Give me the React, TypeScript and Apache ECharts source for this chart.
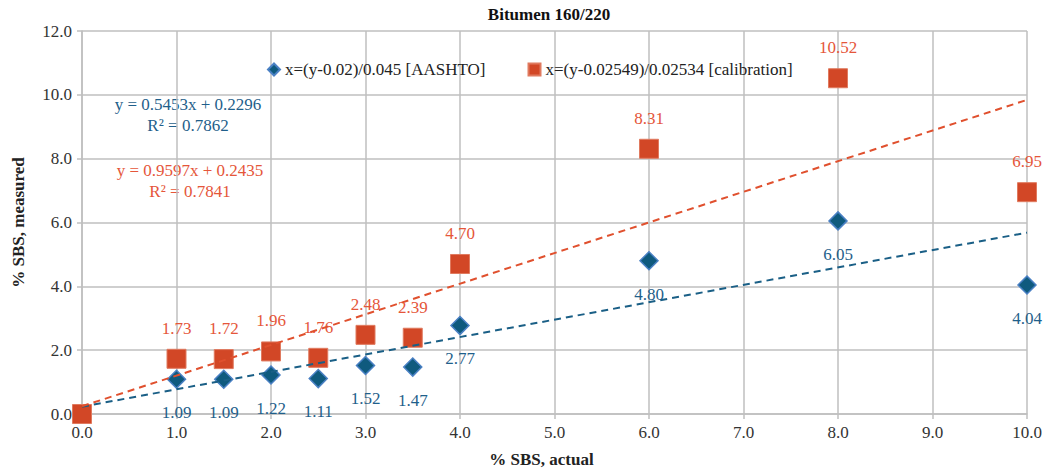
import React, { useEffect, useRef } from "react";
import * as echarts from "echarts";

// % SBS actually added to the binder
const sbsActual = [0, 1, 1.5, 2, 2.5, 3, 3.5, 4, 6, 8, 10];
// % SBS measured with the AASHTO equation
const measuredAashto = [0, 1.09, 1.09, 1.22, 1.11, 1.52, 1.47, 2.77, 4.8, 6.05, 4.04];
// % SBS measured with the calibration equation
const measuredCalibration = [0, 1.73, 1.72, 1.96, 1.76, 2.48, 2.39, 4.7, 8.31, 10.52, 6.95];

// Linear trend lines: [AASHTO, calibration]
const trendSlopes = [0.5453, 0.9597];
const trendIntercepts = [0.2296, 0.2435];
const trendR2 = [0.7862, 0.7841];

const seriesNames = ["x=(y-0.02)/0.045 [AASHTO]", "x=(y-0.02549)/0.02534 [calibration]"];
const yTicks = { min: 0, max: 12, step: 2 };
const xTicks = { min: 0, max: 10, step: 1 };

const FONT = "Liberation Serif";
const FS = 17;
const BLUE = "#0f5a7e";
const BLUE_TEXT = "#1f5f8b";
const RED = "#d24726";
const RED_TEXT = "#e5563a";
const GRID = "#bfbfbf";

export default function App() {
  const ref = useRef<HTMLDivElement>(null);

  useEffect(() => {
    if (!ref.current) return;
    const chart = echarts.init(ref.current, null, { renderer: "svg" });

    const pairs = (ys: number[]) => sbsActual.map((x, i) => [x, ys[i]]);
    const trend = (k: number) => [
      [xTicks.min, trendIntercepts[k] + trendSlopes[k] * xTicks.min],
      [xTicks.max, trendIntercepts[k] + trendSlopes[k] * xTicks.max],
    ];
    const fmtLabel = (p: any) => (p.value[0] === 0 ? "" : Number(p.value[1]).toFixed(2));
    const eq = (k: number) =>
      `y = ${trendSlopes[k].toFixed(4)}x + ${trendIntercepts[k].toFixed(4)}\nR² = ${trendR2[k].toFixed(4)}`;

    chart.setOption({
      animation: false,
      backgroundColor: "#ffffff",
      textStyle: { fontFamily: FONT },
      grid: { left: 82, right: 18, top: 31, bottom: 57, containLabel: false },
      legend: {
        top: 56,
        left: 262,
        itemGap: 42,
        itemWidth: 12,
        itemHeight: 12,
        textStyle: { fontFamily: FONT, fontSize: FS, color: "#222" },
        data: [
          { name: seriesNames[0], icon: "diamond" },
          { name: seriesNames[1], icon: "rect" },
        ],
      },
      xAxis: {
        type: "value",
        min: xTicks.min,
        max: xTicks.max,
        interval: xTicks.step,
        name: "% SBS, actual",
        nameLocation: "middle",
        nameGap: 37,
        nameTextStyle: {
          fontFamily: FONT,
          fontSize: FS,
          fontWeight: "bold",
          color: "#222",
          padding: [0, 26, 0, 0],
        },
        axisLine: { onZero: false, lineStyle: { color: GRID, width: 1.5 } },
        axisTick: { show: true, length: 5, lineStyle: { color: GRID, width: 1.5 } },
        axisLabel: { formatter: (v: number) => v.toFixed(1), fontFamily: FONT, fontSize: FS, color: "#333", margin: 10 },
        splitLine: { show: true, lineStyle: { color: GRID, width: 1.5 } },
      },
      yAxis: {
        type: "value",
        min: yTicks.min,
        max: yTicks.max,
        interval: yTicks.step,
        name: "% SBS, measured",
        nameLocation: "middle",
        nameGap: 55,
        nameRotate: 90,
        nameTextStyle: { fontFamily: FONT, fontSize: FS, fontWeight: "bold", color: "#222" },
        axisLine: { show: true, lineStyle: { color: GRID, width: 1.5 } },
        axisTick: { show: true, length: 5, lineStyle: { color: GRID, width: 1.5 } },
        axisLabel: { formatter: (v: number) => v.toFixed(1), fontFamily: FONT, fontSize: FS, color: "#333", margin: 10 },
        splitLine: { show: true, lineStyle: { color: GRID, width: 1.5 } },
      },
      graphic: [
        {
          type: "text",
          x: 549,
          y: 6,
          style: {
            text: "Bitumen 160/220",
            font: `bold ${FS}px ${FONT}`,
            fill: "#111",
            textAlign: "center",
          },
        },
        {
          type: "text",
          x: 188,
          y: 94,
          style: { text: eq(0), font: `${FS}px ${FONT}`, fill: BLUE_TEXT, textAlign: "center", lineHeight: 21 },
        },
        {
          type: "text",
          x: 190,
          y: 160,
          style: { text: eq(1), font: `${FS}px ${FONT}`, fill: RED_TEXT, textAlign: "center", lineHeight: 21 },
        },
      ],
      series: [
        {
          name: seriesNames[0],
          type: "scatter",
          data: pairs(measuredAashto),
          symbol: "diamond",
          symbolSize: 18,
          itemStyle: { color: BLUE, borderColor: "#4a80c4", borderWidth: 1.5, opacity: 1 },
          label: {
            show: true,
            position: "bottom",
            distance: 15,
            formatter: fmtLabel,
            fontFamily: FONT,
            fontSize: FS,
            color: BLUE_TEXT,
          },
          z: 2,
        },
        {
          name: seriesNames[1],
          type: "scatter",
          data: pairs(measuredCalibration),
          symbol: "rect",
          symbolSize: 19,
          itemStyle: { color: RED, borderColor: "#e07a5f", borderWidth: 1, opacity: 1 },
          label: {
            show: true,
            position: "top",
            distance: 12,
            formatter: fmtLabel,
            fontFamily: FONT,
            fontSize: FS,
            color: RED_TEXT,
          },
          z: 3,
        },
        {
          name: "trend-aashto",
          type: "line",
          data: trend(0),
          showSymbol: false,
          symbol: "none",
          lineStyle: { color: "#1a5f86", width: 2, type: [7, 5] },
          silent: true,
          z: 4,
        },
        {
          name: "trend-calibration",
          type: "line",
          data: trend(1),
          showSymbol: false,
          symbol: "none",
          lineStyle: { color: "#e0502e", width: 2, type: [7, 5] },
          silent: true,
          z: 4,
        },
      ],
    });

    return () => chart.dispose();
  }, []);

  return <div ref={ref} style={{ width: 1045, height: 473, position: "absolute", left: 0, top: 0 }} />;
}
